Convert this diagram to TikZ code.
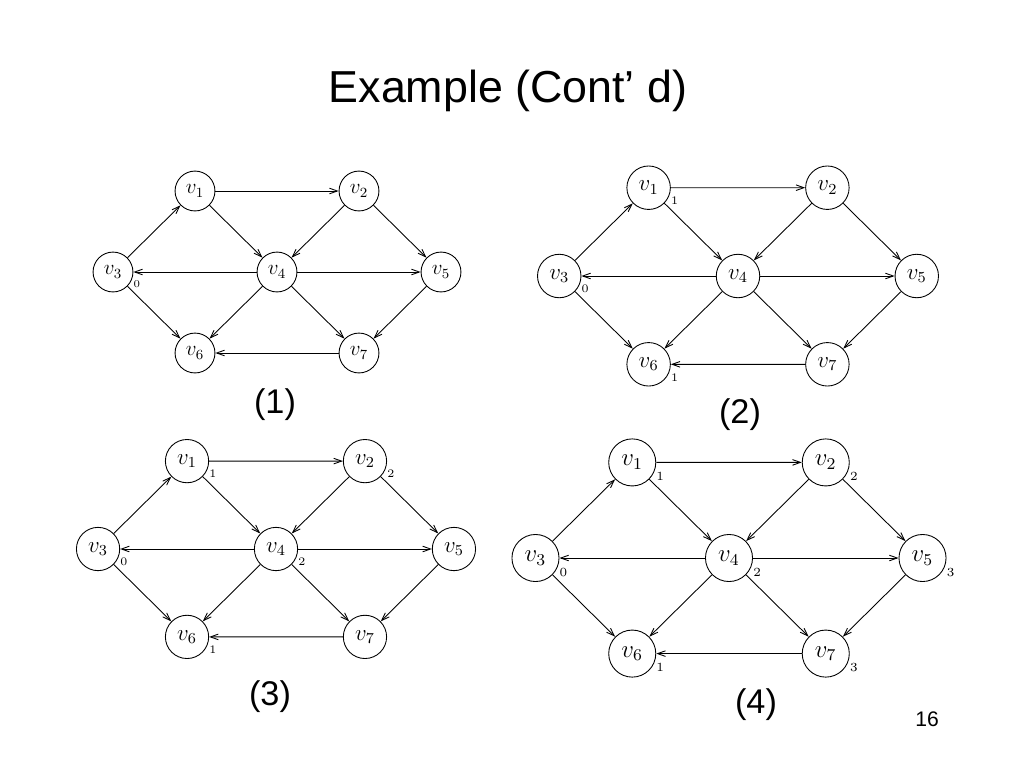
\documentclass[tikz,border=0pt]{standalone}
\usepackage{fontspec}
\setsansfont{Liberation Sans}
\usetikzlibrary{arrows.meta}

\begin{document}
\begin{tikzpicture}[x = 0.02cm, y = -0.02cm,
	> = {Straight Barb[length = 4.5pt, width = 3.2pt]},
	vertex/.style = {draw, circle, line width = 0.5pt, minimum size = 22.7pt, inner sep = 0pt, font = \fontsize{11.5}{13}\selectfont},
	edge/.style = {->, line width = 0.5pt},
	dist/.style = {anchor = north west, inner sep = 0.6pt, font = \fontsize{6}{7}\selectfont},
	caption/.style = {anchor = base, font = \sffamily\fontsize{19.5}{23}\selectfont}]

	\useasboundingbox (0, 0) rectangle (1024, 768);

	% Title and page number

	\node [anchor = base, font = \sffamily\fontsize{25.5}{30}\selectfont] (title) at (508, 102) {Example (Cont’ d)};
	\node [anchor = base, font = \sffamily\fontsize{12}{14}\selectfont] (page) at (927, 726) {16};

	% One copy of the graph; #1 names its nodes, v4 sits at the origin

	\def\drawdag#1{
		\node [vertex] (#1-v1) at (-82, -81) {$v_1$};
		\node [vertex] (#1-v2) at (82, -81) {$v_2$};
		\node [vertex] (#1-v3) at (-164, 0) {$v_3$};
		\node [vertex] (#1-v4) at (0, 0) {$v_4$};
		\node [vertex] (#1-v5) at (164, 0) {$v_5$};
		\node [vertex] (#1-v6) at (-82, 81) {$v_6$};
		\node [vertex] (#1-v7) at (82, 81) {$v_7$};
		\draw [edge] (#1-v1) -- (#1-v2);
		\draw [edge] (#1-v1) -- (#1-v4);
		\draw [edge] (#1-v3) -- (#1-v1);
		\draw [edge] (#1-v2) -- (#1-v4);
		\draw [edge] (#1-v2) -- (#1-v5);
		\draw [edge] (#1-v4) -- (#1-v3);
		\draw [edge] (#1-v4) -- (#1-v5);
		\draw [edge] (#1-v3) -- (#1-v6);
		\draw [edge] (#1-v4) -- (#1-v6);
		\draw [edge] (#1-v4) -- (#1-v7);
		\draw [edge] (#1-v5) -- (#1-v7);
		\draw [edge] (#1-v7) -- (#1-v6);
	}

	% (1)

	\begin{scope}[shift = {(277, 272)}, transform shape]
		\drawdag{a}
		\node [dist] at (a-v3.-20) {0};
	\end{scope}
	\node [caption] (cap-a) at (275, 413) {(1)};

	% (2)

	\begin{scope}[shift = {(738, 276)}, scale = 1.09, transform shape]
		\drawdag{b}
		\node [dist] at (b-v3.-20) {0};
		\node [dist] at (b-v1.-20) {1};
		\node [dist] at (b-v6.-20) {1};
	\end{scope}
	\node [caption] (cap-b) at (740, 423) {(2)};

	% (3)

	\begin{scope}[shift = {(276, 549)}, scale = 1.085, transform shape]
		\drawdag{c}
		\node [dist] at (c-v3.-20) {0};
		\node [dist] at (c-v1.-20) {1};
		\node [dist] at (c-v6.-20) {1};
		\node [dist] at (c-v2.-20) {2};
		\node [dist] at (c-v4.-20) {2};
	\end{scope}
	\node [caption] (cap-c) at (270, 705) {(3)};

	% (4)

	\begin{scope}[shift = {(729, 558)}, scale = 1.18, transform shape]
		\drawdag{d}
		\node [dist] at (d-v3.-20) {0};
		\node [dist] at (d-v1.-20) {1};
		\node [dist] at (d-v6.-20) {1};
		\node [dist] at (d-v2.-20) {2};
		\node [dist] at (d-v4.-20) {2};
		\node [dist] at (d-v5.-20) {3};
		\node [dist] at (d-v7.-20) {3};
	\end{scope}
	\node [caption] (cap-d) at (756, 713) {(4)};

\end{tikzpicture}
\end{document}
